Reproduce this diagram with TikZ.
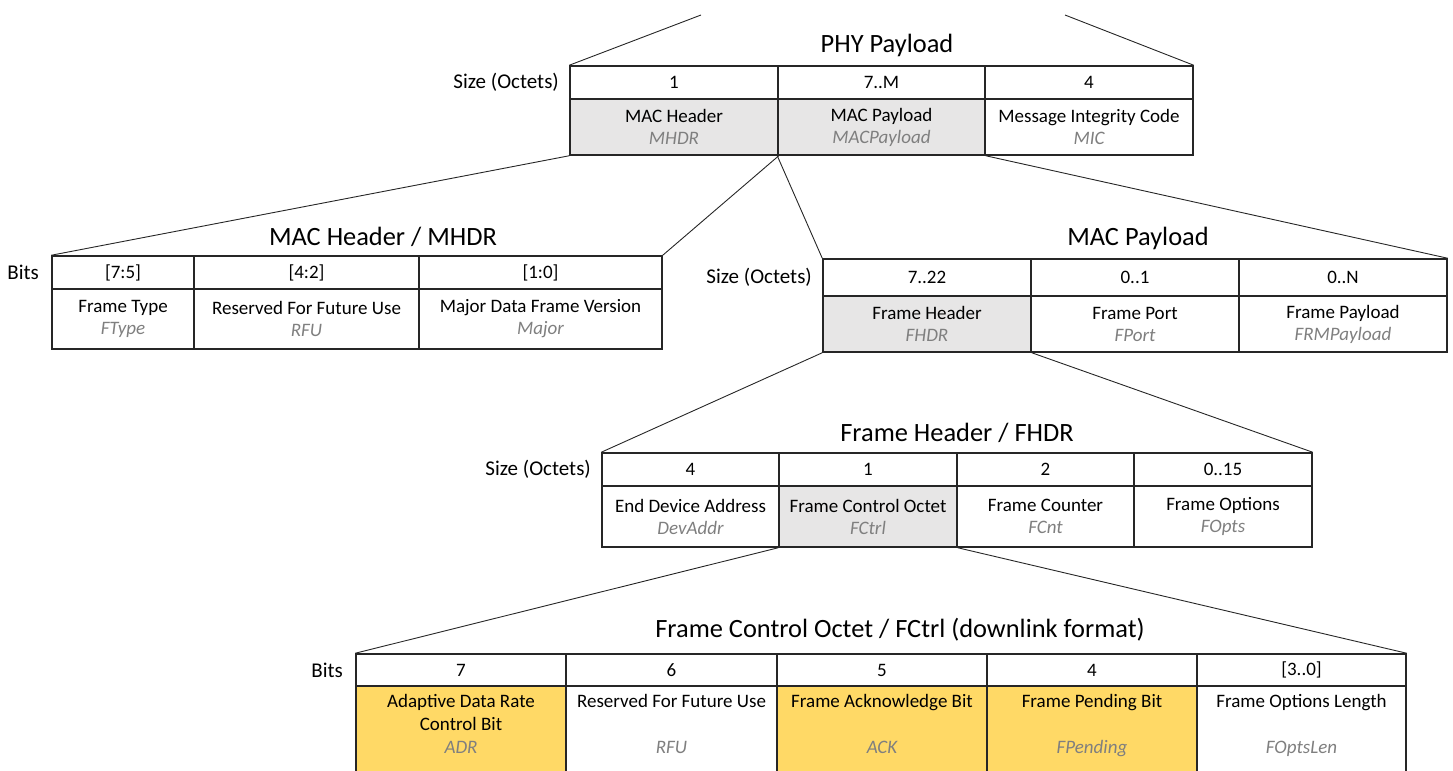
\documentclass[tikz,border=0pt]{standalone}
\usepackage{fontspec}
\setmainfont{Carlito}
\usetikzlibrary{positioning}

\definecolor{hdrgray}{HTML}{E7E6E6}
\definecolor{bitgold}{HTML}{FFD966}
\definecolor{abbrgray}{HTML}{7F7F7F}
\definecolor{rulegray}{HTML}{262626}
\newcommand{\abbr}[1]{{\color{abbrgray}\itshape #1}}

\tikzset{
  cellbox/.style={draw=rulegray, line width=0.75pt, inner sep=0pt, align=center,
    font=\fontsize{9.5}{11}\selectfont},
  celltext/.style={inner sep=0pt, align=center, font=\fontsize{9.5}{11.5}\selectfont},
  tabtitle/.style={inner sep=0pt, font=\fontsize{13.2}{15}\selectfont},
  sidelabel/.style={inner sep=0pt, font=\fontsize{10.5}{12}\selectfont},
  zoomline/.style={draw=rulegray, line width=0.45pt},
}

\begin{document}
\begin{tikzpicture}[x=0.5pt,y=-0.5pt]
  \clip (0,0) rectangle (1453,771);

  % PHY payload
  \node[tabtitle] (phy-title) at (887,45) {PHY Payload};
  \foreach \i/\xa/\xb/\sz/\bg/\nm/\ab in {%
      1/570/778/1/hdrgray/MAC Header/MHDR,
      2/778/985/7..M/hdrgray/MAC Payload/MACPayload,
      3/985/1193/4/white/Message Integrity Code/MIC}
  {
    \node[cellbox, minimum width={(\xb-\xa)*0.5pt}, minimum height=16.5pt]
      (phy-s\i) at ({(\xa+\xb)/2},82.5) {\sz};
    \node[cellbox, fill=\bg, minimum width={(\xb-\xa)*0.5pt}, minimum height=28pt]
      (phy-f\i) at ({(\xa+\xb)/2},127) {\nm\\\abbr{\ab}};
  }
  \node[sidelabel, left=5pt of phy-s1] (phy-lbl) {Size (Octets)};

  % MAC header
  \node[tabtitle] (mhdr-title) at (383,237) {MAC Header / MHDR};
  \foreach \i/\xa/\xb/\sz/\nm/\ab in {%
      1/52/194/[7:5]/Frame Type/FType,
      2/194/419/[4:2]/Reserved For Future Use/RFU,
      3/419/662/[1:0]/Major Data Frame Version/Major}
  {
    \node[cellbox, minimum width={(\xb-\xa)*0.5pt}, minimum height=16.5pt]
      (mhdr-s\i) at ({(\xa+\xb)/2},272.5) {\sz};
    \node[cellbox, minimum width={(\xb-\xa)*0.5pt}, minimum height=30pt]
      (mhdr-f\i) at ({(\xa+\xb)/2},319) {\nm\\\abbr{\ab}};
  }
  \node[sidelabel, left=6pt of mhdr-s1] (mhdr-lbl) {Bits};

  % MAC payload
  \node[tabtitle] (macp-title) at (1138,238) {MAC Payload};
  \foreach \i/\xa/\xb/\sz/\bg/\nm/\ab in {%
      1/823/1031/7..22/hdrgray/Frame Header/FHDR,
      2/1031/1239/0..1/white/Frame Port/FPort,
      3/1239/1447/0..N/white/Frame Payload/FRMPayload}
  {
    \node[cellbox, minimum width={(\xb-\xa)*0.5pt}, minimum height=18.5pt]
      (macp-s\i) at ({(\xa+\xb)/2},277.5) {\sz};
    \node[cellbox, fill=\bg, minimum width={(\xb-\xa)*0.5pt}, minimum height=28pt]
      (macp-f\i) at ({(\xa+\xb)/2},324) {\nm\\\abbr{\ab}};
  }
  \node[sidelabel, left=5pt of macp-s1] (macp-lbl) {Size (Octets)};

  % frame header
  \node[tabtitle] (fhdr-title) at (957,433) {Frame Header / FHDR};
  \foreach \i/\xa/\xb/\sz/\bg/\nm/\ab in {%
      1/602/779/4/white/End Device Address/DevAddr,
      2/779/957/1/hdrgray/Frame Control Octet/FCtrl,
      3/957/1134/2/white/Frame Counter/FCnt,
      4/1134/1312/0..15/white/Frame Options/FOpts}
  {
    \node[cellbox, minimum width={(\xb-\xa)*0.5pt}, minimum height=16.5pt]
      (fhdr-s\i) at ({(\xa+\xb)/2},469.5) {\sz};
    \node[cellbox, fill=\bg, minimum width={(\xb-\xa)*0.5pt}, minimum height=30.5pt]
      (fhdr-f\i) at ({(\xa+\xb)/2},516.5) {\nm\\\abbr{\ab}};
  }
  \node[sidelabel, left=5pt of fhdr-s1] (fhdr-lbl) {Size (Octets)};

  % frame control octet
  \node[tabtitle] (fctrl-title) at (900,630) {Frame Control Octet / FCtrl (downlink format)};
  \foreach \i/\xa/\xb/\sz/\bg/\nm/\ab in {%
      1/356/566/7/bitgold/Adaptive Data Rate\\Control Bit/ADR,
      2/566/777/6/white/Reserved For Future Use\\~/RFU,
      3/777/987/5/bitgold/Frame Acknowledge Bit\\~/ACK,
      4/987/1197/4/bitgold/Frame Pending Bit\\~/FPending,
      5/1197/1406/{[3..0]}/white/Frame Options Length\\~/FOptsLen}
  {
    \node[cellbox, minimum width={(\xb-\xa)*0.5pt}, minimum height=16pt]
      (fctrl-s\i) at ({(\xa+\xb)/2},670) {\sz};
    \node[cellbox, fill=\bg, minimum width={(\xb-\xa)*0.5pt}, minimum height=57pt]
      (fctrl-f\i) at ({(\xa+\xb)/2},743) {};
    \node[celltext, below=4.5pt of fctrl-f\i.north] (fctrl-t\i) {\nm\\\abbr{\ab}};
  }
  \node[sidelabel, left=6pt of fctrl-s1] (fctrl-lbl) {Bits};

  % zoom lines
  \coordinate (phy-top-l) at (701,15);
  \coordinate (phy-top-r) at (1065,15);
  \draw[zoomline] (phy-top-l) -- (phy-s1.north west);
  \draw[zoomline] (phy-top-r) -- (phy-s3.north east);
  \draw[zoomline] (phy-f1.south west) -- (mhdr-s1.north west);
  \draw[zoomline] (phy-f1.south east) -- (mhdr-s3.north east);
  \draw[zoomline] (phy-f2.south west) -- (macp-s1.north west);
  \draw[zoomline] (phy-f2.south east) -- (macp-s3.north east);
  \draw[zoomline] (macp-f1.south west) -- (fhdr-s1.north west);
  \draw[zoomline] (macp-f1.south east) -- (fhdr-s4.north east);
  \draw[zoomline] (fhdr-f2.south west) -- (fctrl-s1.north west);
  \draw[zoomline] (fhdr-f2.south east) -- (fctrl-s5.north east);
\end{tikzpicture}
\end{document}
